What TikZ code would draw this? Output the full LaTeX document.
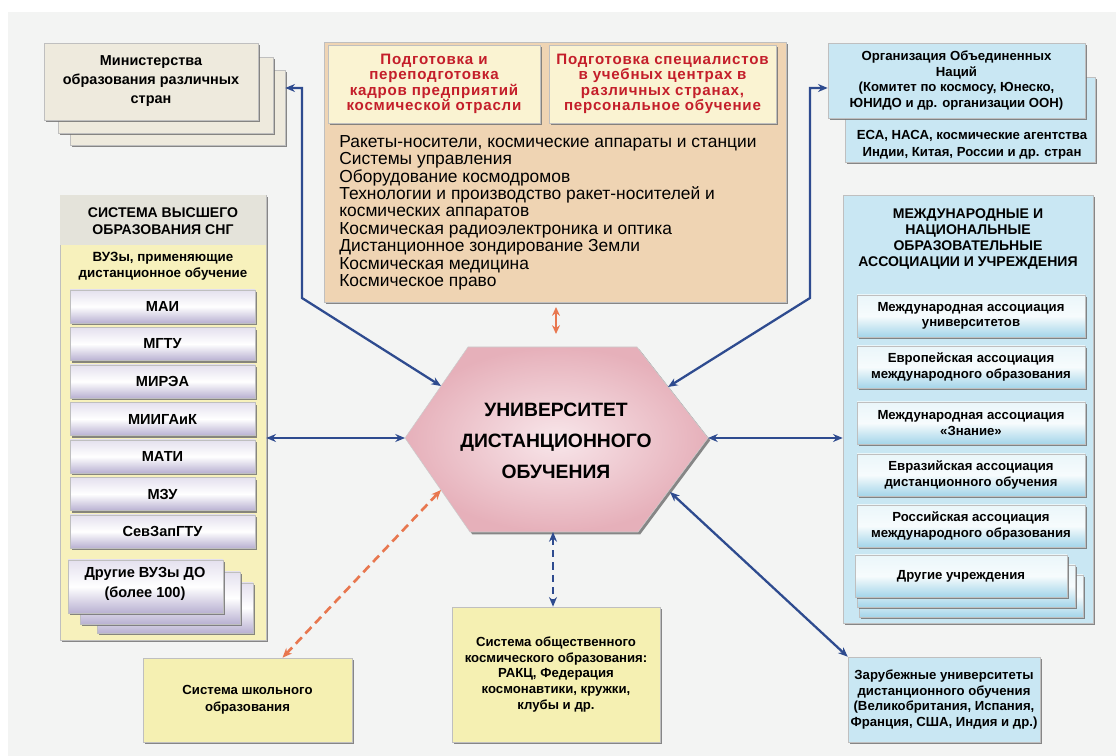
\documentclass[tikz,border=0pt]{standalone}
\usepackage{fontspec}
\setmainfont{Liberation Sans}
\usetikzlibrary{arrows.meta,shadows,calc}
\definecolor{bgc}{HTML}{F3F4F3}
\definecolor{beige}{HTML}{EEEADD}
\definecolor{tan}{HTML}{EFD4B3}
\definecolor{lyel}{HTML}{FAF3D2}
\definecolor{redt}{HTML}{C41E2A}
\definecolor{hgrey}{HTML}{E4E3DA}
\definecolor{yel}{HTML}{F7F1BC}
\definecolor{yel2}{HTML}{F5F0B2}
\definecolor{lavtop}{HTML}{E4E0EE}
\definecolor{lavbot}{HTML}{B9B1D2}
\definecolor{hexin}{HTML}{F8E6EA}
\definecolor{hexout}{HTML}{E6B0BA}
\definecolor{lblue}{HTML}{C9E7F3}
\definecolor{sbtop}{HTML}{EAF6FA}
\definecolor{sbbot}{HTML}{A4D5E9}
\definecolor{arrblue}{HTML}{2E4B8F}
\definecolor{arrorange}{HTML}{E8774F}
\newcommand\bxx[7]{\node[#1, minimum width={((#5)-(#3))*0.02cm}, minimum height={((#6)-(#4))*0.02cm}] (#2) at ({((#3)+(#5))/2},{((#4)+(#6))/2}) {#7};}
\tikzset{
  sh/.style={drop shadow={shadow xshift=1.3pt,shadow yshift=-1.3pt,fill=black!55,opacity=.85}},
  bx/.style={inner sep=0pt, align=center, draw=black!25, line width=0.3pt, sh,
    font=\bfseries\fontsize{7.6}{9}\selectfont},
  sheet/.style={bx, fill=beige, font=\bfseries\fontsize{8.2}{10.8}\selectfont},
  redbox/.style={bx, fill=lyel, text=redt, font=\bfseries\fontsize{8.6}{8.8}\selectfont\addfontfeatures{LetterSpace=5}},
  uni/.style={bx, top color=lavtop, bottom color=lavbot, middle color=white,
    font=\bfseries\fontsize{8.3}{10}\selectfont},
  sub/.style={bx, top color=sbtop, bottom color=sbbot, middle color=white!60!sbtop,
    font=\bfseries\fontsize{7.5}{8.8}\selectfont},
  blbox/.style={bx, fill=lblue, font=\bfseries\fontsize{7.5}{9}\selectfont},
  ybox/.style={bx, fill=yel2, font=\bfseries\fontsize{7.5}{9.6}\selectfont},
  plain/.style={inner sep=0pt, fill=hgrey},
  lbl/.style={inner sep=0pt, align=center},
  barrow/.style={draw=arrblue, line width=1.3pt, {Stealth[length=5.5pt,width=4.5pt]}-{Stealth[length=5.5pt,width=4.5pt]}},
  darrow/.style={barrow, dash pattern=on 4pt off 3pt},
  oarrow/.style={draw=arrorange, line width=1.5pt, dash pattern=on 5pt off 3pt,
    {Stealth[length=5.5pt,width=4.5pt]}-{Stealth[length=5.5pt,width=4.5pt]}},
  oshort/.style={draw=arrorange, line width=1.5pt, {Stealth[length=5pt,width=4.5pt]}-{Stealth[length=5pt,width=4.5pt]}},
}
\begin{document}
\begin{tikzpicture}[x=0.02cm,y=-0.02cm]
\useasboundingbox (0,0) rectangle (1116,756);
\fill[white] (0,0) rectangle (1116,756);
\fill[bgc] (8,12) rectangle (1116,756);

% ---- top-left stacked sheets
\bxx{sheet}{min3}{70}{70}{285}{145}{}
\bxx{sheet}{min2}{58}{57}{273}{133}{}
\bxx{sheet}{min1}{44}{43}{258}{120}{Министерства\\образования различных\\стран}

% ---- top centre box
\bxx{bx, fill=tan}{prep}{324}{42}{786}{302}{}
\bxx{redbox}{red1}{328}{45}{540}{123}{Подготовка и\\переподготовка\\кадров предприятий\\космической отрасли}
\bxx{redbox}{red2}{549}{45}{776}{123}{Подготовка специалистов\\в учебных центрах в\\различных странах,\\персональное обучение}
\node[inner sep=0pt, align=left, anchor=north west, font=\fontsize{9.9}{9.9}\selectfont] (list) at (339,135)
 {Ракеты-носители, космические аппараты и станции\\
  Системы управления\\
  Оборудование космодромов\\
  Технологии и производство ракет-носителей и\\
  космических аппаратов\\
  Космическая радиоэлектроника и оптика\\
  Дистанционное зондирование Земли\\
  Космическая медицина\\
  Космическое право};

% ---- top right
\bxx{blbox}{esa}{845}{77}{1095}{162}{}
\node[lbl, font=\bfseries\fontsize{7.5}{9.4}\selectfont] (esat) at (972,145) {ЕСА, НАСА, космические агентства\\Индии, Китая, России и др. стран};
\bxx{blbox}{un}{828}{43}{1085}{118}{Организация Объединенных\\Наций\\(Комитет по космосу, Юнеско,\\ЮНИДО и др. организации ООН)}

% ---- left column
\bxx{bx, fill=yel}{vuz}{60}{195}{266}{640}{}
\bxx{plain}{vuzh}{60.3}{195.3}{265.7}{245}{}
\node[lbl, font=\bfseries\fontsize{8}{9.6}\selectfont] (vuzht) at (163,221) {СИСТЕМА ВЫСШЕГО\\ОБРАЗОВАНИЯ СНГ};
\node[lbl, font=\bfseries\fontsize{7.6}{9.4}\selectfont] (vuzst) at (163,266) {ВУЗы, применяющие\\дистанционное обучение};
\foreach \t [count=\i from 0] in {МАИ,МГТУ,МИРЭА,МИИГАиК,МАТИ,МЗУ,СевЗапГТУ}{
  \bxx{uni}{u\i}{70}{290+37.5*\i}{255}{323+37.5*\i}{\t}
}
\bxx{uni}{oth3}{97}{583}{253}{633}{}
\bxx{uni}{oth2}{80}{572}{240}{624}{}
\bxx{uni}{oth1}{68}{560}{223}{613}{}
\node[lbl, font=\bfseries\fontsize{8.3}{11}\selectfont] (otht) at (145,584) {Другие ВУЗы ДО\\(более 100)};

% ---- right column
\bxx{bx, fill=lblue}{intl}{843}{195}{1093}{623}{}
\node[lbl, font=\bfseries\fontsize{8}{9.1}\selectfont] (intlt) at (968,239) {МЕЖДУНАРОДНЫЕ И\\НАЦИОНАЛЬНЫЕ\\ОБРАЗОВАТЕЛЬНЫЕ\\АССОЦИАЦИИ И УЧРЕЖДЕНИЯ};
\bxx{sub}{s1}{857}{295}{1085}{337}{Международная ассоциация\\университетов}
\bxx{sub}{s2}{857}{346}{1085}{388}{Европейская ассоциация\\международного образования}
\bxx{sub}{s3}{857}{402}{1085}{444}{Международная ассоциация\\«Знание»}
\bxx{sub}{s4}{857}{454}{1085}{496}{Евразийская ассоциация\\дистанционного обучения}
\bxx{sub}{s5}{857}{505}{1085}{547}{Российская ассоциация\\международного образования}
\bxx{sub}{s63}{859}{575}{1083}{617}{}
\bxx{sub}{s62}{857}{565}{1075}{607}{}
\bxx{sub}{s6}{855}{555}{1067}{597}{Другие учреждения}

% ---- bottom boxes
\bxx{ybox}{school}{143}{658}{352}{742}{Система школьного\\образования}
\bxx{ybox, font=\bfseries\fontsize{7.5}{8.9}\selectfont}{pub}{452}{607}{660}{742}{Система общественного\\космического образования:\\РАКЦ, Федерация\\космонавтики, кружки,\\клубы и др.}
\bxx{blbox, font=\bfseries\fontsize{7.5}{8.9}\selectfont}{foreign}{848}{657}{1040}{742}{Зарубежные университеты\\дистанционного обучения\\(Великобритания, Испания,\\Франция, США, Индия и др.)}

% ---- hexagon
\coordinate (hexL) at (405,438);
\coordinate (hexTL) at (468,347);
\coordinate (hexTR) at (637,347);
\coordinate (hexR) at (708,438);
\coordinate (hexBR) at (638,532);
\coordinate (hexBL) at (470,532);
\path[draw=black!20, line width=0.3pt, shade, inner color=hexin, outer color=hexout, sh]
  (hexL) -- (hexTL) -- (hexTR) -- (hexR) -- (hexBR) -- (hexBL) -- cycle;
\node[lbl, font=\bfseries\fontsize{11}{17.5}\selectfont] (hex) at (556,441) {УНИВЕРСИТЕТ\\ДИСТАНЦИОННОГО\\ОБУЧЕНИЯ};
\coordinate (hexUL) at (441,386);
\coordinate (hexUR) at (668,387);
\coordinate (hexLL) at (441,490);
\coordinate (hexLR) at (670,492);
\coordinate (hexB) at (553,532);

% ---- connectors
\coordinate (m1) at (302,88);
\coordinate (m2) at (302,298);
\draw[barrow] (min3.east |- m1) -- (m1) -- (m2) -- (hexUL);
\coordinate (n1) at (810,88);
\coordinate (n2) at (810,298);
\draw[barrow] (un.west |- n1) -- (n1) -- (n2) -- (hexUR);
\draw[barrow] (vuz.east |- hexL) -- (hexL);
\draw[barrow] (hexR) -- (intl.west |- hexR);
\draw[barrow] (hexLR) -- (foreign.north west);
\draw[darrow] (hexB) -- (pub.north -| hexB);
\draw[oarrow] (hexLL) -- ($(school.north)+(35,0)$);
\coordinate (o1) at (556,307);
\coordinate (o2) at (556,334);
\draw[oshort] (o1) -- (o2);
\end{tikzpicture}
\end{document}
